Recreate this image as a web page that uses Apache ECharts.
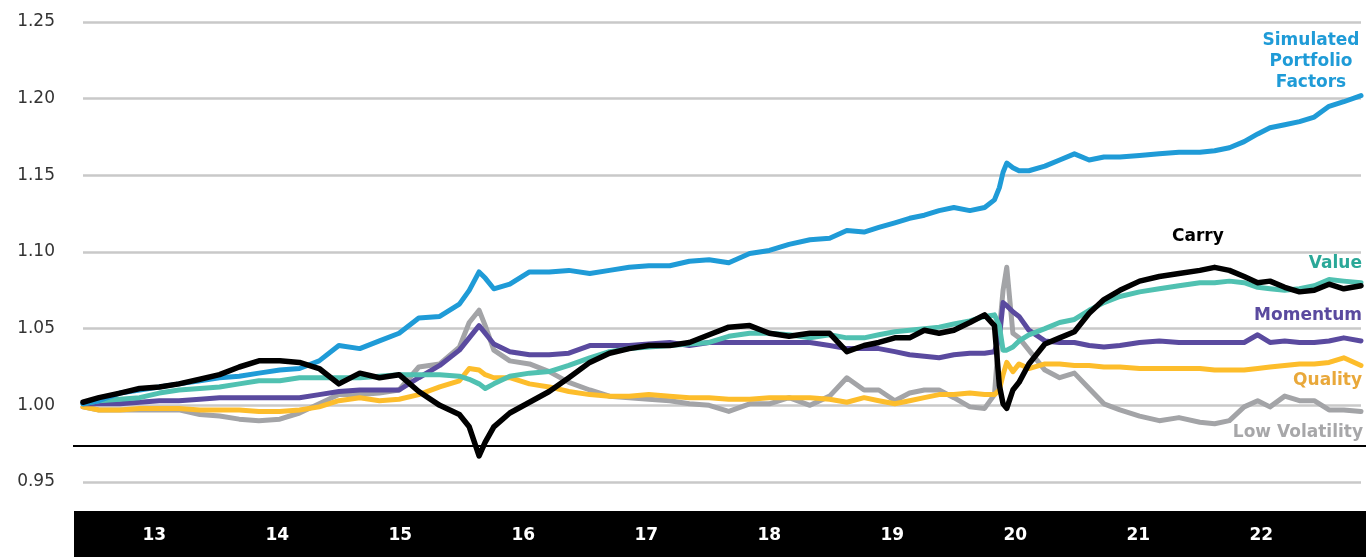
<!DOCTYPE html>
<html>
<head>
<meta charset="utf-8">
<script src="https://cdn.jsdelivr.net/npm/echarts@6/dist/echarts.min.js"></script>
<style>
  html, body { margin: 0; padding: 0; background: #fff; }
  #chart { width: 1366px; height: 557px; }
</style>
</head>
<body>
<div id="chart"></div>
<script>
// decimal years
const dates = [
  2012.92, 2013.05, 2013.22, 2013.38, 2013.54, 2013.70, 2013.87, 2014.03, 2014.19, 2014.35,
  2014.52, 2014.68, 2014.84, 2015.00, 2015.17, 2015.33, 2015.49, 2015.65, 2015.82, 2015.98,
  2016.06, 2016.14, 2016.19, 2016.26, 2016.39, 2016.55, 2016.71, 2016.87, 2017.04, 2017.20,
  2017.36, 2017.52, 2017.69, 2017.85, 2018.01, 2018.17, 2018.34, 2018.50, 2018.66, 2018.83,
  2018.99, 2019.13, 2019.27, 2019.39, 2019.52, 2019.64, 2019.76, 2019.88, 2020.00, 2020.13,
  2020.25, 2020.33, 2020.37, 2020.40, 2020.43, 2020.48, 2020.53, 2020.61, 2020.74, 2020.86,
  2020.98, 2021.10, 2021.22, 2021.35, 2021.51, 2021.67, 2021.83, 2022.00, 2022.12, 2022.24,
  2022.36, 2022.47, 2022.57, 2022.69, 2022.81, 2022.93, 2023.05, 2023.17, 2023.31
];

const portfolio = [
  1.001, 1.003, 1.008, 1.010, 1.012, 1.014, 1.016, 1.018, 1.019, 1.021,
  1.023, 1.024, 1.029, 1.039, 1.037, 1.042, 1.047, 1.057, 1.058, 1.066,
  1.075, 1.087, 1.083, 1.076, 1.079, 1.087, 1.087, 1.088, 1.086, 1.088,
  1.090, 1.091, 1.091, 1.094, 1.095, 1.093, 1.099, 1.101, 1.105, 1.108,
  1.109, 1.114, 1.113, 1.116, 1.119, 1.122, 1.124, 1.127, 1.129, 1.127,
  1.129, 1.134, 1.142, 1.152, 1.158, 1.155, 1.153, 1.153, 1.156, 1.160,
  1.164, 1.160, 1.162, 1.162, 1.163, 1.164, 1.165, 1.165, 1.166, 1.168,
  1.172, 1.177, 1.181, 1.183, 1.185, 1.188, 1.195, 1.198, 1.202
];

const carry = [
  1.002, 1.005, 1.008, 1.011, 1.012, 1.014, 1.017, 1.020, 1.025, 1.029,
  1.029, 1.028, 1.024, 1.014, 1.021, 1.018, 1.020, 1.009, 1.000, 0.994,
  0.986, 0.967, 0.976, 0.986, 0.995, 1.002, 1.009, 1.018, 1.028, 1.034,
  1.037, 1.039, 1.039, 1.041, 1.046, 1.051, 1.052, 1.047, 1.045, 1.047,
  1.047, 1.035, 1.039, 1.041, 1.044, 1.044, 1.049, 1.047, 1.049, 1.054,
  1.059, 1.052, 1.013, 1.001, 0.998, 1.010, 1.015, 1.027, 1.040, 1.044,
  1.048, 1.060, 1.069, 1.075, 1.081, 1.084, 1.086, 1.088, 1.090, 1.088,
  1.084, 1.080, 1.081, 1.077, 1.074, 1.075, 1.079, 1.076, 1.078
];

const value = [
  1.001, 1.003, 1.004, 1.005, 1.008, 1.010, 1.011, 1.012, 1.014, 1.016,
  1.016, 1.018, 1.018, 1.018, 1.018, 1.019, 1.020, 1.020, 1.020, 1.019,
  1.017, 1.014, 1.011, 1.014, 1.019, 1.021, 1.022, 1.026, 1.031, 1.035,
  1.037, 1.038, 1.039, 1.040, 1.041, 1.045, 1.047, 1.047, 1.046, 1.044,
  1.046, 1.044, 1.044, 1.046, 1.048, 1.049, 1.050, 1.051, 1.053, 1.055,
  1.058, 1.059, 1.052, 1.036, 1.036, 1.038, 1.042, 1.046, 1.050, 1.054,
  1.056, 1.062, 1.067, 1.071, 1.074, 1.076, 1.078, 1.080, 1.080, 1.081,
  1.080, 1.077, 1.076, 1.075, 1.076, 1.078, 1.082, 1.081, 1.080
];

const momentum = [
  1.001, 1.001, 1.001, 1.002, 1.003, 1.003, 1.004, 1.005, 1.005, 1.005,
  1.005, 1.005, 1.007, 1.009, 1.010, 1.010, 1.010, 1.018, 1.026, 1.036,
  1.044, 1.052, 1.047, 1.040, 1.035, 1.033, 1.033, 1.034, 1.039, 1.039,
  1.039, 1.040, 1.041, 1.039, 1.041, 1.041, 1.041, 1.041, 1.041, 1.041,
  1.039, 1.037, 1.037, 1.037, 1.035, 1.033, 1.032, 1.031, 1.033, 1.034,
  1.034, 1.035, 1.044, 1.067, 1.065, 1.061, 1.058, 1.049, 1.042, 1.041,
  1.041, 1.039, 1.038, 1.039, 1.041, 1.042, 1.041, 1.041, 1.041, 1.041,
  1.041, 1.046, 1.041, 1.042, 1.041, 1.041, 1.042, 1.044, 1.042
];

const quality = [
  0.999, 0.997, 0.997, 0.998, 0.998, 0.998, 0.997, 0.997, 0.997, 0.996,
  0.996, 0.997, 0.999, 1.003, 1.005, 1.003, 1.004, 1.007, 1.012, 1.016,
  1.024, 1.023, 1.020, 1.018, 1.018, 1.014, 1.012, 1.009, 1.007, 1.006,
  1.006, 1.007, 1.006, 1.005, 1.005, 1.004, 1.004, 1.005, 1.005, 1.005,
  1.004, 1.002, 1.005, 1.003, 1.001, 1.003, 1.005, 1.007, 1.007, 1.008,
  1.007, 1.007, 1.010, 1.020, 1.028, 1.022, 1.027, 1.024, 1.027, 1.027,
  1.026, 1.026, 1.025, 1.025, 1.024, 1.024, 1.024, 1.024, 1.023, 1.023,
  1.023, 1.024, 1.025, 1.026, 1.027, 1.027, 1.028, 1.031, 1.026
];

const lowVol = [
  0.999, 0.997, 0.997, 0.997, 0.997, 0.997, 0.994, 0.993, 0.991, 0.990,
  0.991, 0.995, 1.001, 1.007, 1.007, 1.008, 1.010, 1.025, 1.027, 1.038,
  1.054, 1.062, 1.052, 1.036, 1.029, 1.027, 1.022, 1.015, 1.010, 1.006,
  1.005, 1.004, 1.003, 1.001, 1.000, 0.996, 1.001, 1.001, 1.005, 1.000,
  1.006, 1.018, 1.010, 1.010, 1.003, 1.008, 1.010, 1.010, 1.005, 0.999,
  0.998, 1.007, 1.049, 1.075, 1.090, 1.047, 1.044, 1.036, 1.023, 1.018,
  1.021, 1.011, 1.001, 0.997, 0.993, 0.990, 0.992, 0.989, 0.988, 0.990,
  0.999, 1.003, 0.999, 1.006, 1.003, 1.003, 0.997, 0.997, 0.996
];

const yearCenters = [2013.5, 2014.5, 2015.5, 2016.5, 2017.5, 2018.5, 2019.5, 2020.5, 2021.5, 2022.5];
const yearLabels = ['13', '14', '15', '16', '17', '18', '19', '20', '21', '22'];
const baseLevel = 0.9733;

const chart = echarts.init(document.getElementById('chart'));

function pairs(vals) {
  return dates.map((d, i) => [d, vals[i]]);
}

function line(name, vals, color, width) {
  return {
    name: name,
    type: 'line',
    data: pairs(vals),
    showSymbol: false,
    lineStyle: { color: color, width: width, join: 'round', cap: 'round' },
    itemStyle: { color: color },
    silent: true
  };
}

const labelFont = 'bold 17px "DejaVu Sans"';

const option = {
  animation: false,
  grid: { left: 83, right: 5, top: 22, bottom: 75 },
  xAxis: {
    type: 'value',
    min: dates[0],
    max: dates[dates.length - 1],
    z: 10,
    axisLine: { show: false },
    axisTick: { show: false },
    splitLine: { show: false },
    axisLabel: {
      customValues: yearCenters,
      formatter: v => yearLabels[yearCenters.indexOf(v)],
      color: '#fff',
      fontFamily: 'DejaVu Sans',
      fontWeight: 'bold',
      fontSize: 17,
      margin: 45
    }
  },
  yAxis: {
    type: 'value',
    min: 0.95,
    max: 1.25,
    interval: 0.05,
    axisLine: { show: false },
    axisTick: { show: false },
    axisLabel: {
      formatter: v => v.toFixed(2),
      color: '#333',
      fontFamily: 'DejaVu Sans',
      fontSize: 17,
      margin: 28
    },
    splitLine: { lineStyle: { color: '#c9c9c9', width: 2.5 } }
  },
  series: [
    line('Low Volatility', lowVol, '#a3a4a7', 5),
    line('Quality', quality, '#fdbd2b', 5),
    line('Momentum', momentum, '#5a4a9f', 5),
    line('Value', value, '#50c1b1', 5),
    line('Simulated Portfolio Factors', portfolio, '#1f9bd7', 5),
    line('Carry', carry, '#000000', 5.5)
  ],
  graphic: {
    elements: [
      { type: 'rect', id: 'band', z: -1, shape: { x: 74, y: 511, width: 1292, height: 46 }, style: { fill: '#000' } },
      { type: 'text', x: 1311, y: 30, style: { text: 'Simulated\nPortfolio\nFactors', textAlign: 'center', textVerticalAlign: 'top', lineHeight: 21, fill: '#1f9bd7', font: labelFont } },
      { type: 'text', x: 1172, y: 237, style: { text: 'Carry', textAlign: 'left', textVerticalAlign: 'middle', fill: '#000', font: labelFont } },
      { type: 'text', x: 1362, y: 264, style: { text: 'Value', textAlign: 'right', textVerticalAlign: 'middle', fill: '#2aa898', font: labelFont } },
      { type: 'text', x: 1362, y: 316, style: { text: 'Momentum', textAlign: 'right', textVerticalAlign: 'middle', fill: '#5a4a9f', font: labelFont } },
      { type: 'text', x: 1362, y: 381, style: { text: 'Quality', textAlign: 'right', textVerticalAlign: 'middle', fill: '#e9a83a', font: labelFont } },
      { type: 'text', x: 1363, y: 433, style: { text: 'Low Volatility', textAlign: 'right', textVerticalAlign: 'middle', fill: '#a7a7a9', font: labelFont } }
    ]
  }
};

chart.setOption(option);

// black base line, placed at its value on the y axis
const yBase = Math.round(chart.convertToPixel({ yAxisIndex: 0 }, baseLevel));
chart.setOption({
  graphic: {
    elements: [
      { type: 'line', id: 'base', z: 5, shape: { x1: 73, y1: yBase, x2: 1366, y2: yBase }, style: { stroke: '#000', lineWidth: 2 } }
    ]
  }
});
</script>
</body>
</html>
